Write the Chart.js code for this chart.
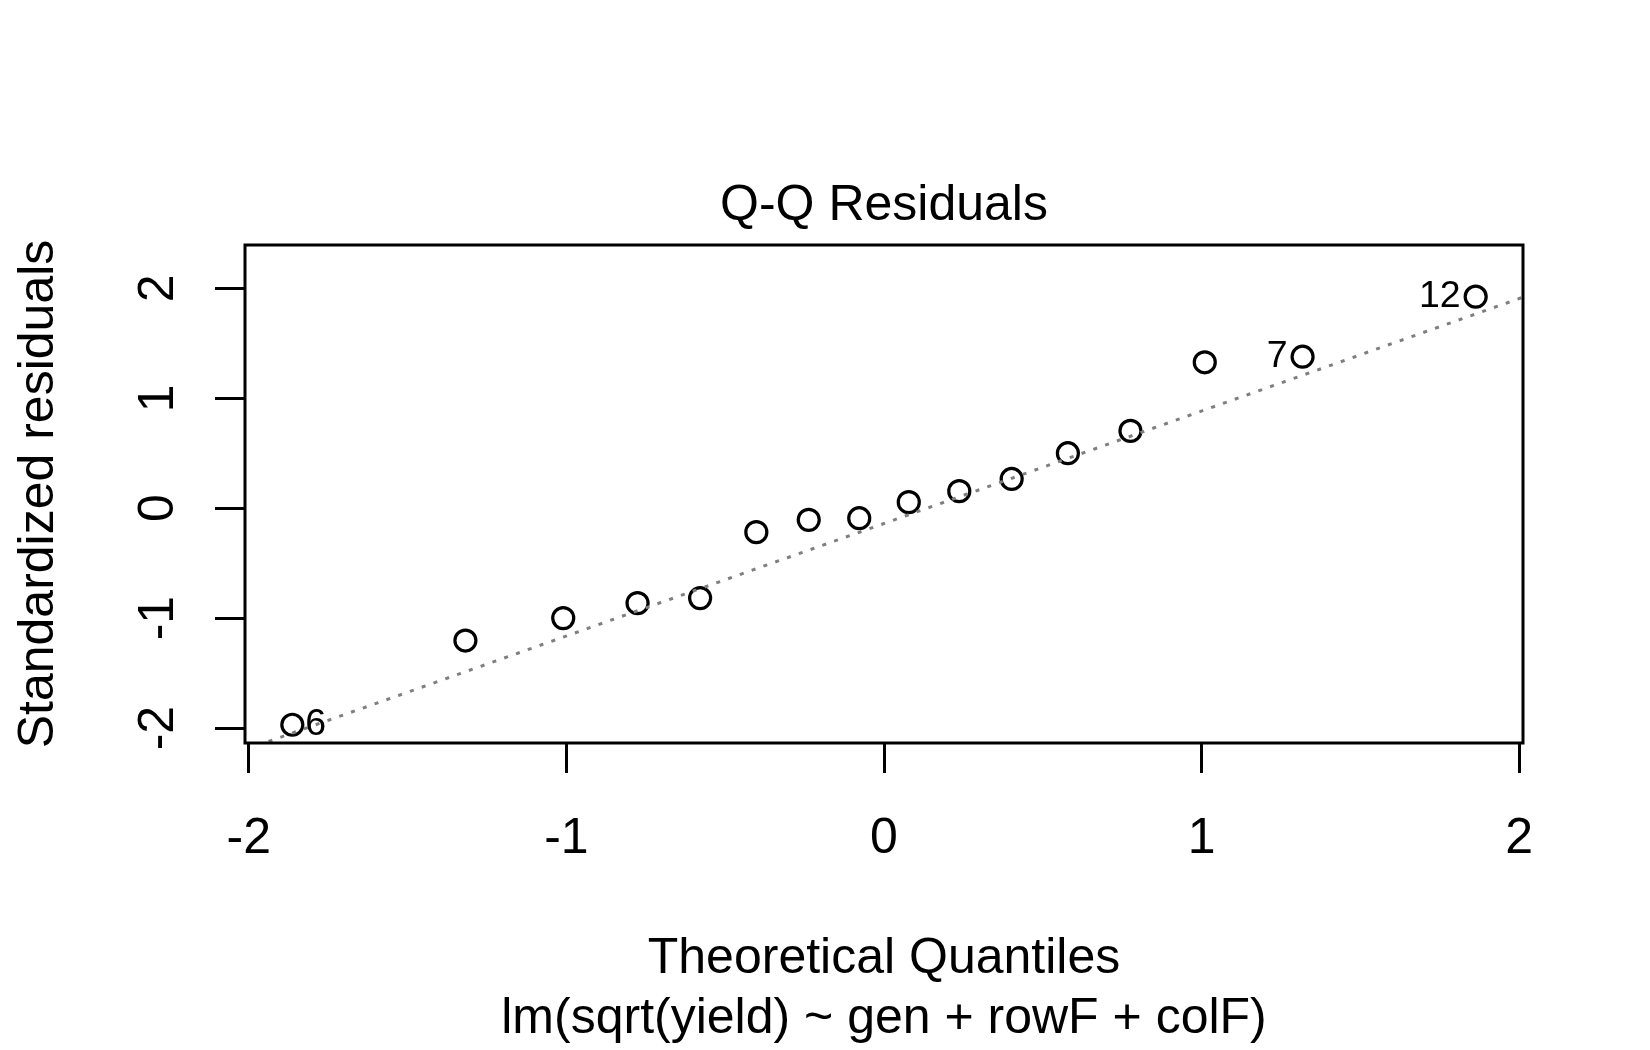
<!DOCTYPE html>
<html>
<head>
<meta charset="utf-8">
<title>Q-Q Residuals</title>
<script src="https://cdn.jsdelivr.net/npm/chart.js@4.4.1/dist/chart.umd.min.js"></script>
<style>
  html, body { margin: 0; padding: 0; background: #fff; }
  #wrap { width: 1650px; height: 1050px; position: relative; }
</style>
</head>
<body>
<div id="wrap"><canvas id="qq"></canvas></div>
<script>
// Theoretical quantiles (x) and standardized residuals (y), sorted
const theoQuantiles = [-1.863, -1.318, -1.010, -0.776, -0.579, -0.402, -0.237, -0.078,
                        0.078, 0.237, 0.402, 0.579, 0.776, 1.010, 1.318, 1.863];
const stdResiduals = [-1.970, -1.204, -1.000, -0.864, -0.818, -0.218, -0.106, -0.091,
                       0.055, 0.155, 0.266, 0.500, 0.703, 1.327, 1.378, 1.924];

// Identified observations (position in sorted order -> row name)
const labelIndex = [0, 14, 15];
const labelText = ['6', '7', '12'];

// Axes
const xTicks = [-2, -1, 0, 1, 2];
const yTicks = [-2, -1, 0, 1, 2];
const xLimits = [-2.012, 2.012];
const yLimits = [-2.136, 2.394];

// Normal quartiles used by qqline
const normQuartiles = [-0.6745, 0.6745];

const FONT = "'Liberation Sans', Arial, sans-serif";
Chart.defaults.font.family = FONT;
Chart.defaults.color = '#000';

// R-style quantile (type 7)
function quantile(values, p) {
  const s = values.slice().sort((a, b) => a - b);
  const h = (s.length - 1) * p;
  const lo = Math.floor(h);
  return s[lo] + (h - lo) * ((s[lo + 1] !== undefined ? s[lo + 1] : s[lo]) - s[lo]);
}

// qqline through the quartiles
const q1 = quantile(stdResiduals, 0.25);
const q3 = quantile(stdResiduals, 0.75);
const slope = (q3 - q1) / (normQuartiles[1] - normQuartiles[0]);
const intercept = q1 - slope * normQuartiles[0];
const lineData = xLimits.map(x => ({ x: x, y: intercept + slope * x }));

const points = theoQuantiles.map((x, i) => ({ x: x, y: stdResiduals[i] }));

// Box around the plot region
const boxPlugin = {
  id: 'plotBox',
  afterDatasetsDraw(chart) {
    const a = chart.chartArea;
    const ctx = chart.ctx;
    ctx.save();
    ctx.strokeStyle = '#000';
    ctx.lineWidth = 3;
    ctx.strokeRect(a.left, a.top, a.right - a.left, a.bottom - a.top);
    ctx.restore();
  }
};

// Row-name labels next to the extreme points
const idPlugin = {
  id: 'pointIds',
  afterDatasetsDraw(chart) {
    const meta = chart.getDatasetMeta(1);
    const ctx = chart.ctx;
    ctx.save();
    ctx.font = '37.5px ' + FONT;
    ctx.fillStyle = '#000';
    ctx.textBaseline = 'middle';
    labelIndex.forEach((idx, k) => {
      const el = meta.data[idx];
      if (theoQuantiles[idx] < 0) {
        ctx.textAlign = 'left';
        ctx.fillText(labelText[k], el.x + 13, el.y);
      } else {
        ctx.textAlign = 'right';
        ctx.fillText(labelText[k], el.x - 15, el.y);
      }
    });
    ctx.restore();
  }
};

const tickGrid = {
  display: true,
  drawOnChartArea: false,
  drawTicks: true,
  tickLength: 30,
  tickWidth: 3,
  tickColor: '#000'
};

new Chart(document.getElementById('qq'), {
  type: 'scatter',
  data: {
    datasets: [
      {
        type: 'line',
        data: lineData,
        borderColor: '#7f7f7f',
        borderWidth: 3,
        borderDash: [4, 8.5],
        pointRadius: 0,
        fill: false
      },
      {
        data: points,
        pointStyle: 'circle',
        pointRadius: 10.5,
        pointBorderWidth: 3.2,
        pointBorderColor: '#000',
        pointBackgroundColor: 'rgba(0,0,0,0)',
        borderColor: '#000',
        backgroundColor: 'rgba(0,0,0,0)'
      }
    ]
  },
  options: {
    responsive: true,
    maintainAspectRatio: false,
    animation: false,
    devicePixelRatio: 1,
    layout: { padding: { top: 150, right: 127, bottom: 0, left: 0 } },
    plugins: {
      legend: { display: false },
      tooltip: { enabled: false },
      title: {
        display: true,
        fullSize: false,
        text: 'Q-Q Residuals',
        color: '#000',
        font: { size: 50, weight: 'normal', family: FONT, lineHeight: 1.2 },
        padding: { top: 26, bottom: 9 }
      }
    },
    scales: {
      x: {
        type: 'linear',
        position: 'bottom',
        min: xLimits[0],
        max: xLimits[1],
        afterBuildTicks: scale => { scale.ticks = xTicks.map(v => ({ value: v })); },
        afterFit: scale => { scale.height = 307; },
        grid: tickGrid,
        border: { display: false },
        ticks: {
          autoSkip: false,
          maxRotation: 0,
          padding: 36,
          color: '#000',
          font: { size: 50, family: FONT, lineHeight: 1.2 },
          callback: v => String(v)
        },
        title: {
          display: true,
          text: ['Theoretical Quantiles', 'lm(sqrt(yield) ~ gen + rowF + colF)'],
          color: '#000',
          font: { size: 50, family: FONT, lineHeight: 1.2 },
          padding: { top: 0, bottom: 1 }
        }
      },
      y: {
        type: 'linear',
        position: 'left',
        min: yLimits[0],
        max: yLimits[1],
        afterBuildTicks: scale => { scale.ticks = yTicks.map(v => ({ value: v })); },
        afterFit: scale => { scale.width = 245; },
        grid: tickGrid,
        border: { display: false },
        ticks: {
          autoSkip: false,
          minRotation: 90,
          maxRotation: 90,
          crossAlign: 'center',
          padding: 34,
          color: '#000',
          font: { size: 50, family: FONT, lineHeight: 1.2 },
          callback: v => String(v)
        },
        title: {
          display: true,
          text: 'Standardized residuals',
          color: '#000',
          font: { size: 50, family: FONT, lineHeight: 1.2 },
          padding: { top: 9, bottom: 0 }
        }
      }
    }
  },
  plugins: [boxPlugin, idPlugin]
});
</script>
</body>
</html>
